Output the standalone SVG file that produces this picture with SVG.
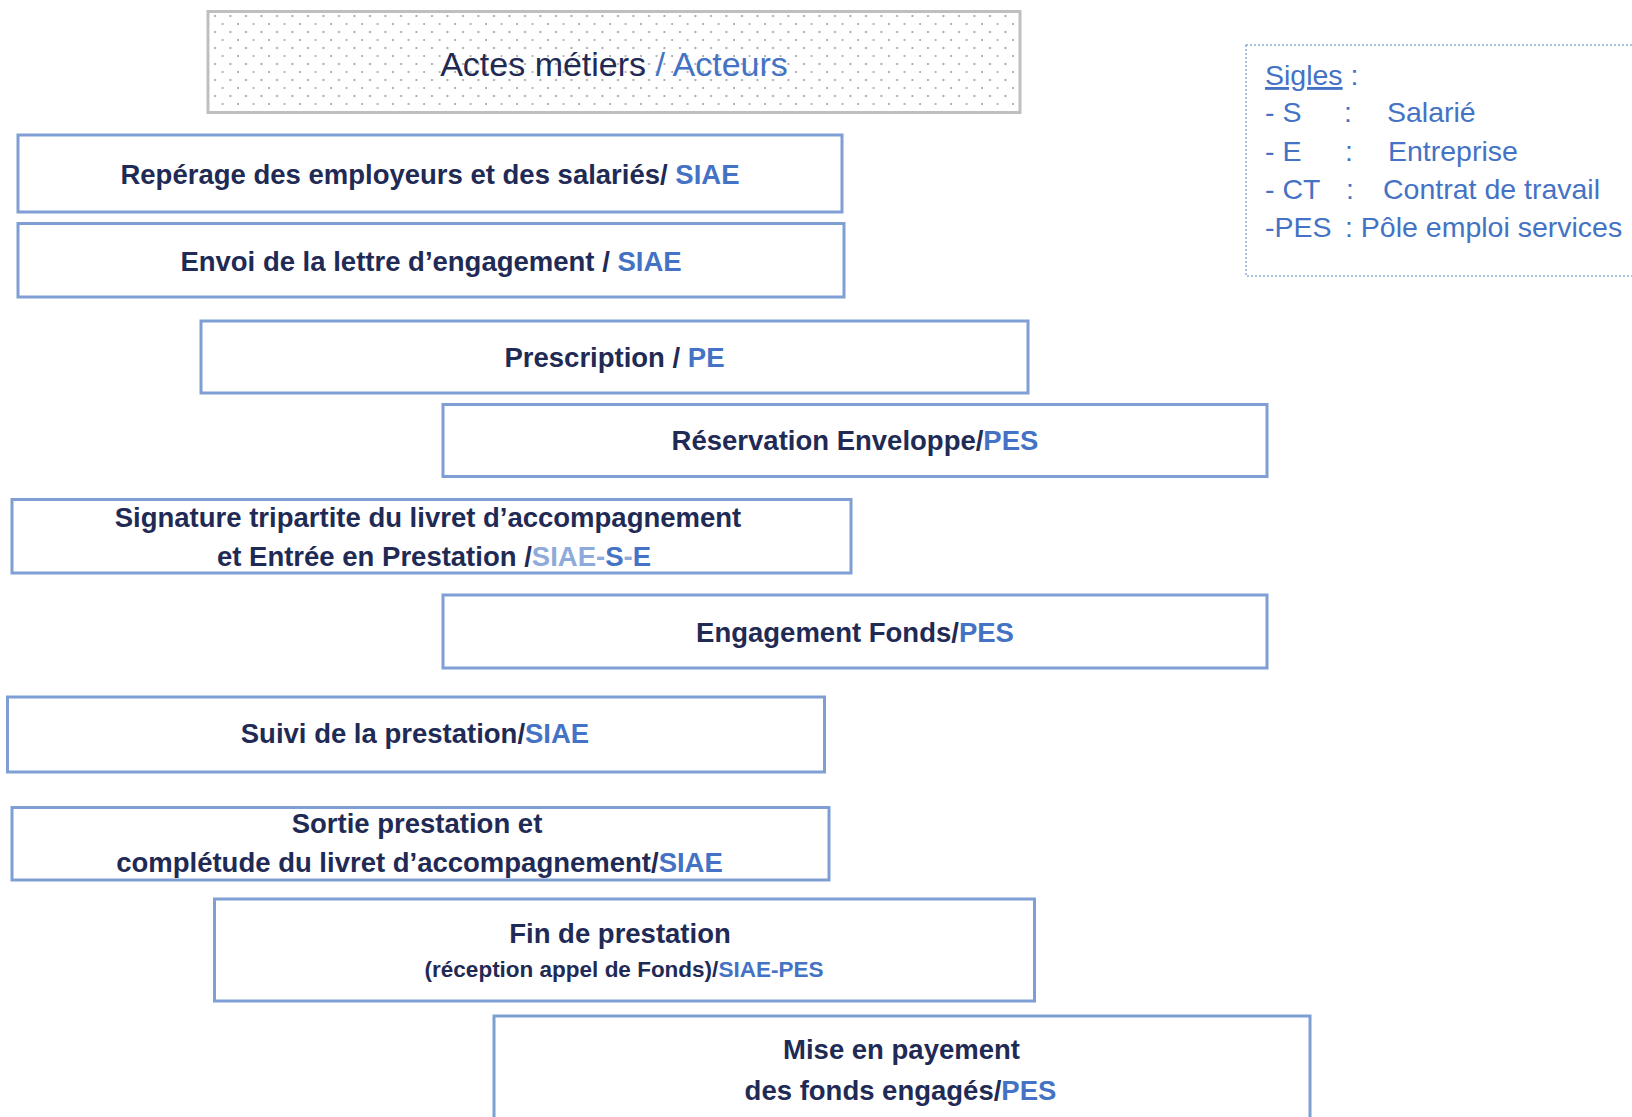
<svg xmlns="http://www.w3.org/2000/svg" width="1632" height="1117" viewBox="0 0 1632 1117">
  <style>
    .box { fill: #ffffff; stroke: #7f9fd4; stroke-width: 3; }
    .t { font-family: "Liberation Sans", Arial, sans-serif; font-weight: bold; font-size: 27.5px; fill: #1f2a55; text-anchor: middle; }
    .small { font-size: 22.5px; }
    .b { fill: #4472c4; }
    .lb { fill: #8eaadb; }
    .leg { font-family: "Liberation Sans", Arial, sans-serif; font-size: 28.5px; fill: #4472c4; }
    .title { font-family: "Liberation Sans", Arial, sans-serif; font-size: 34px; fill: #1f2a55; text-anchor: middle; }
  </style>
  <defs>
    <pattern id="dots" x="207" y="10" width="15.5" height="16" patternUnits="userSpaceOnUse">
      <circle cx="8" cy="6" r="1.1" fill="#9a9a9a"/>
      <circle cx="15.75" cy="14" r="1.1" fill="#9a9a9a"/>
      <circle cx="0" cy="14" r="1.1" fill="#9a9a9a"/>
    </pattern>
  </defs>
  <rect width="1632" height="1117" fill="#ffffff"/>

  <g id="title">
    <rect x="208" y="11.5" width="812" height="101" fill="#ffffff" stroke="none"/>
    <rect x="208" y="11.5" width="812" height="101" fill="url(#dots)" stroke="#bfbfbf" stroke-width="3"/>
    <text class="title" x="614" y="76">Actes métiers <tspan class="b">/ Acteurs</tspan></text>
  </g>

  <g id="legend">
    <rect x="1246" y="45" width="420" height="231" fill="none" stroke="#8eaadb" stroke-width="1.5" stroke-dasharray="2 2"/>
    <text class="leg" x="1265" y="85"><tspan text-decoration="underline">Sigles</tspan> :</text>
    <text class="leg" x="1265" y="122">- S</text>
    <text class="leg" x="1344" y="122">:</text>
    <text class="leg" x="1387" y="122">Salarié</text>
    <text class="leg" x="1265" y="161">- E</text>
    <text class="leg" x="1345" y="161">:</text>
    <text class="leg" x="1388" y="161">Entreprise</text>
    <text class="leg" x="1265" y="199">- CT</text>
    <text class="leg" x="1346" y="199">:</text>
    <text class="leg" x="1383" y="199">Contrat de travail</text>
    <text class="leg" x="1265" y="237">-PES</text>
    <text class="leg" x="1345" y="237">: Pôle emploi services</text>
  </g>

  <g id="connectors"></g>

  <g id="n1">
    <rect class="box" x="18" y="135" width="824" height="77"/>
    <text class="t" x="430" y="184">Repérage des employeurs et des salariés/ <tspan class="b">SIAE</tspan></text>
  </g>
  <g id="n2">
    <rect class="box" x="18" y="223.5" width="826" height="73.5"/>
    <text class="t" x="431" y="271">Envoi de la lettre d’engagement / <tspan class="b">SIAE</tspan></text>
  </g>
  <g id="n3">
    <rect class="box" x="201" y="321" width="827" height="72"/>
    <text class="t" x="614.5" y="367">Prescription / <tspan class="b">PE</tspan></text>
  </g>
  <g id="n4">
    <rect class="box" x="443" y="404.5" width="824" height="72"/>
    <text class="t" x="855" y="450">Réservation Enveloppe/<tspan class="b">PES</tspan></text>
  </g>
  <g id="n5">
    <rect class="box" x="12" y="499.5" width="839" height="73.5"/>
    <text class="t" x="428" y="527">Signature tripartite du livret d’accompagnement</text>
    <text class="t" x="434" y="566">et Entrée en Prestation /<tspan class="lb">SIAE-</tspan><tspan class="b">S</tspan><tspan class="lb">-</tspan><tspan class="b">E</tspan></text>
  </g>
  <g id="n6">
    <rect class="box" x="443" y="595" width="824" height="73"/>
    <text class="t" x="855" y="642">Engagement Fonds/<tspan class="b">PES</tspan></text>
  </g>
  <g id="n7">
    <rect class="box" x="7.5" y="697" width="817" height="75"/>
    <text class="t" x="415" y="743">Suivi de la prestation/<tspan class="b">SIAE</tspan></text>
  </g>
  <g id="n8">
    <rect class="box" x="12" y="807.5" width="817" height="72.5"/>
    <text class="t" x="417" y="833">Sortie prestation et</text>
    <text class="t" x="419.5" y="872">complétude du livret d’accompagnement/<tspan class="b">SIAE</tspan></text>
  </g>
  <g id="n9">
    <rect class="box" x="214.5" y="899" width="820" height="102"/>
    <text class="t" x="620" y="943">Fin de prestation</text>
    <text class="t small" x="624" y="977">(réception appel de Fonds)/<tspan class="b">SIAE-PES</tspan></text>
  </g>
  <g id="n10">
    <rect class="box" x="494" y="1016" width="816" height="120"/>
    <text class="t" x="901.5" y="1059">Mise en payement</text>
    <text class="t" x="900.5" y="1100">des fonds engagés/<tspan class="b">PES</tspan></text>
  </g>
</svg>
